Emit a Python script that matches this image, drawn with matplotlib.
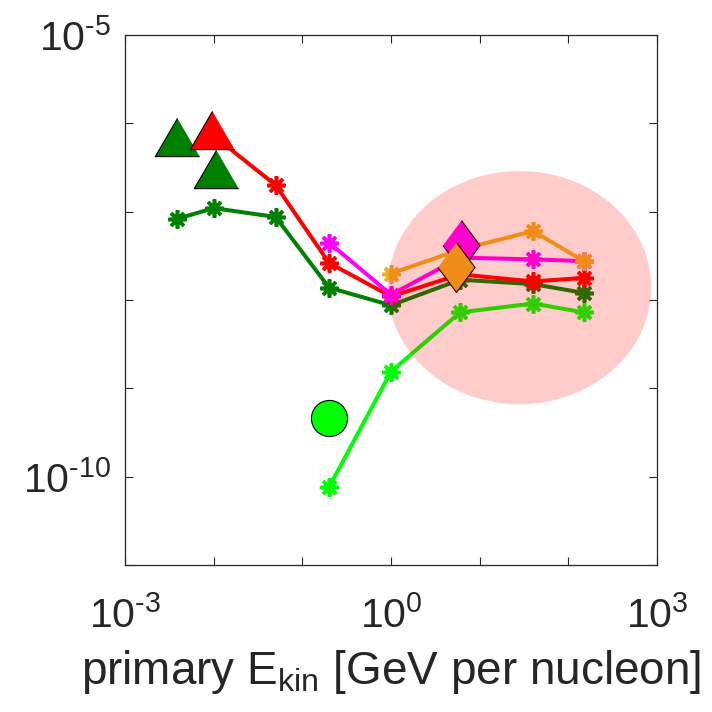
import numpy as np
import matplotlib
matplotlib.use('Agg')
from matplotlib import pyplot as plt
from matplotlib.patches import Polygon

plt.rcParams['font.family'] = ['Liberation Sans', 'DejaVu Sans']
plt.rcParams['mathtext.fontset'] = 'custom'
plt.rcParams['mathtext.rm'] = 'Liberation Sans'
plt.rcParams['mathtext.it'] = 'Liberation Sans'
plt.rcParams['mathtext.default'] = 'regular'

# energies [GeV per nucleon]
e_dkgreen = [0.0039, 0.01, 0.05, 0.2, 1, 6, 40, 150]
v_dkgreen = [10**-7.08, 10**-6.96, 10**-7.06, 10**-7.86, 10**-8.06, 10**-7.77, 10**-7.82, 10**-7.92]

e_red = [0.01, 0.05, 0.2, 1, 6, 40, 150]
v_red = [10**-6.14, 10**-6.70, 10**-7.58, 10**-7.96, 10**-7.71, 10**-7.79, 10**-7.75]

e_magenta = [0.2, 1, 6, 40, 150]
v_magenta = [10**-7.35, 10**-7.94, 10**-7.52, 10**-7.54, 10**-7.56]

e_orange = [1, 6, 40, 150]
v_orange = [10**-7.70, 10**-7.43, 10**-7.22, 10**-7.56]

e_ltgreen = [0.2, 1, 6, 40, 150]
v_ltgreen = [10**-10.12, 10**-8.81, 10**-8.14, 10**-8.04, 10**-8.14]

# single measurements (big markers)
tri_green_e = [0.0039, 0.0107]
tri_green_v = [10**-6.16, 10**-6.52]
tri_red_e = [0.0095]
tri_red_v = [10**-6.08]
circ_e = [0.2]
circ_v = [10**-9.34]
dia_mag_e = [6.1]
dia_mag_v = [10**-7.38]
dia_or_e = [5.4]
dia_or_v = [10**-7.63]

# highlighted region (log10 centre and half widths)
ell_logx, ell_logy = 1.45, -7.86
ell_ax, ell_ay = 1.485, 1.32

xticks = [1e-3, 1e-2, 1e-1, 1e0, 1e1, 1e2, 1e3]
xticklabels = ['$10^{\\text{-}3}$', '', '', '$10^{0}$', '', '', '$10^{3}$']
yticks = [1e-11, 1e-10, 1e-9, 1e-8, 1e-7, 1e-6, 1e-5]
yticklabels = ['', '$10^{\\text{-}10}$', '', '', '', '', '$10^{\\text{-}5}$']

DKGREEN = (0, 0.5, 0)
ORANGE = (0.929, 0.694, 0.125)
MAGENTA = (1, 0, 1)
AXCOL = (0.15, 0.15, 0.15)
FS = 29.5
FS_LABEL = 33

fig = plt.figure(figsize=(7.12, 7.12), dpi=100)
ax = fig.add_axes([0.1756, 0.2065, 0.7472, 0.7443])
ax.set_xscale('log')
ax.set_yscale('log')

star = (8, 2, 0)
kw = dict(lw=2.9, marker=star, ms=13, mew=2.6)
ax.plot(e_dkgreen, v_dkgreen, color=DKGREEN, **kw)
ax.plot(e_red, v_red, color='r', **kw)
ax.plot(e_magenta, v_magenta, color=MAGENTA, **kw)
ax.plot(e_orange, v_orange, color=ORANGE, **kw)
ax.plot(e_ltgreen, v_ltgreen, color=(0, 1, 0), **kw)

tri = [(0, 0.86), (-1, -0.86), (1, -0.86)]
dia = [(0, 1), (0.74, 0), (0, -1), (-0.74, 0)]
ax.plot(tri_green_e, tri_green_v, ls='none', marker=tri, ms=32, mfc=DKGREEN, mec='k', mew=0.8)
ax.plot(tri_red_e, tri_red_v, ls='none', marker=tri, ms=32, mfc='r', mec='k', mew=0.8)
ax.plot(circ_e, circ_v, ls='none', marker='o', ms=26, mfc=(0, 1, 0), mec='k', mew=0.8)
ax.plot(dia_mag_e, dia_mag_v, ls='none', marker=dia, ms=36, mfc=MAGENTA, mec='k', mew=0.8)
ax.plot(dia_or_e, dia_or_v, ls='none', marker=dia, ms=36, mfc=ORANGE, mec='k', mew=0.8)

t = np.linspace(0, 2 * np.pi, 200)
ex = 10 ** (ell_logx + ell_ax * np.cos(t))
ey = 10 ** (ell_logy + ell_ay * np.sin(t))
ax.add_patch(Polygon(np.column_stack([ex, ey]), closed=True, fc='r', alpha=0.2, ec='none', zorder=5))

ax.set_xlim(1e-3, 1e3)
ax.set_ylim(1e-11, 1e-5)
ax.set_xticks(xticks)
ax.set_xticklabels(xticklabels)
ax.set_yticks(yticks)
ax.set_yticklabels(yticklabels)
ax.minorticks_off()
ax.tick_params(which='both', direction='in', length=6, width=0.8, top=True, right=True,
               labelsize=FS, colors=AXCOL)
ax.tick_params(axis='x', pad=22)
ax.tick_params(axis='y', pad=10)
for s in ax.spines.values():
    s.set_color(AXCOL)
    s.set_linewidth(0.9)
ax.set_xlabel('primary E$_{\\mathrm{kin}}$ [GeV per nucleon]', fontsize=FS_LABEL, color=AXCOL, labelpad=9)

fig.savefig('out.png', dpi=100)
